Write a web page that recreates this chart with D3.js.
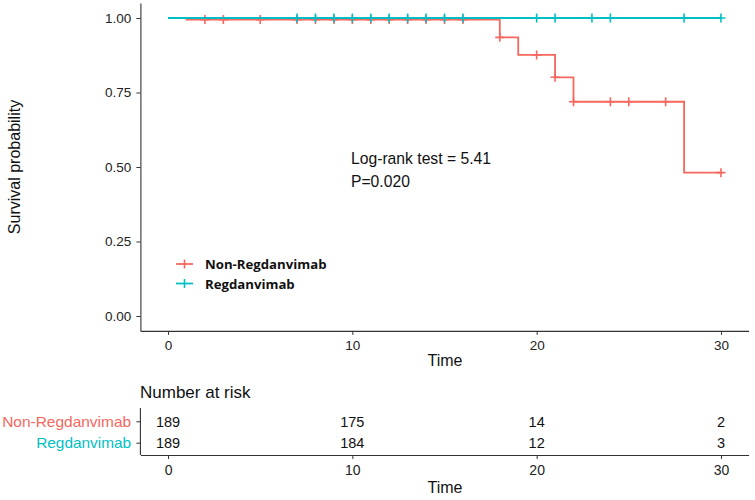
<!DOCTYPE html>
<html><head><meta charset="utf-8">
<script src="https://cdn.jsdelivr.net/npm/d3@7"></script>
<style>body{margin:0;background:#fff}svg{display:block}</style>
</head><body>
<svg id="c" width="755" height="500"></svg>
<script>
const groups = ["Non-Regdanvimab", "Regdanvimab"];
const colors = ["#F6675E", "#00BFC4"];
// step curves (time, survival)
const nonStepTimes = [0, 1, 18, 19, 21, 22, 28, 30];
const nonStepSurv  = [1, 0.9947, 0.935, 0.876, 0.801, 0.719, 0.481, 0.481];
const regStepTimes = [0, 30];
const regStepSurv  = [1, 1];
// censor times
const nonCensor = [2, 3, 5, 7, 8, 9, 10, 11, 12, 13, 14, 15, 16, 18, 20, 21, 22, 24, 25, 27, 30];
const regCensor = [7, 8, 9, 10, 11, 12, 13, 14, 15, 16, 20, 21, 23, 24, 28, 30];
// risk table
const riskTimes = [0, 10, 20, 30];
const nonRisk = [189, 175, 14, 2];
const regRisk = [189, 184, 12, 3];
const xTicks = [0, 10, 20, 30];
const yTicks = [0, 0.25, 0.5, 0.75, 1];

const svg = d3.select("#c");
const FONT = "'Liberation Sans', Arial, sans-serif";
const x = d3.scaleLinear().domain([-1.5, 31.5]).range([140.4, 748.6]);
const y = d3.scaleLinear().domain([-0.05, 1.05]).range([330.9, 3.1]);

// axes main
const gx = svg.append("g").attr("transform", "translate(0,330.9)")
  .call(d3.axisBottom(x).tickValues(xTicks).tickSize(4).tickSizeOuter(0));
const gy = svg.append("g").attr("transform", "translate(140.4,0)")
  .call(d3.axisLeft(y).tickValues(yTicks).tickFormat(d3.format(".2f")).tickSize(4).tickSizeOuter(0));
[gx, gy].forEach(g => {
  g.selectAll("path.domain").attr("stroke", "#333").attr("stroke-width", 1.1);
  g.selectAll(".tick line").attr("stroke", "#333");
  g.selectAll(".tick text").attr("fill", "#222").style("font-family", FONT).style("font-size", "13.5px");
});
gx.selectAll(".tick text").attr("dy", "0.9em");
gy.selectAll(".tick text").attr("dx", "-0.15em");

svg.append("text").attr("x", 445).attr("y", 366).attr("text-anchor", "middle")
  .style("font-family", FONT).style("font-size", "16px").attr("fill", "#111").text("Time");
svg.append("text").attr("transform", "translate(20,167) rotate(-90)").attr("text-anchor", "middle")
  .style("font-family", FONT).style("font-size", "16px").attr("fill", "#111").text("Survival probability");

// curves
const series = [
  {t: nonStepTimes, s: nonStepSurv, c: nonCensor, col: colors[0]},
  {t: regStepTimes, s: regStepSurv, c: regCensor, col: colors[1]}
];
const line = d3.line().x(d => x(d[0])).y(d => y(d[1])).curve(d3.curveStepAfter);
function survAt(sr, t) {
  let v = sr.s[0];
  for (let i = 0; i < sr.t.length; i++) if (sr.t[i] <= t) v = sr.s[i];
  return v;
}
series.forEach(sr => {
  const pts = sr.t.map((t, i) => [t, sr.s[i]]);
  svg.append("path").datum(pts).attr("d", line).attr("fill", "none")
    .attr("stroke", sr.col).attr("stroke-width", 1.8);
  const g = svg.append("g");
  sr.c.forEach(t => {
    const cx = x(t), cy = y(survAt(sr, t));
    g.append("path").attr("d", `M${cx-4.5},${cy}H${cx+4.5}M${cx},${cy-4.5}V${cy+4.5}`)
      .attr("stroke", sr.col).attr("stroke-width", 1.6).attr("fill", "none");
  });
});

// annotation
svg.append("text").attr("x", 351).attr("y", 164).style("font-family", FONT).style("font-size", "15.7px")
  .attr("fill", "#111").text("Log-rank test = 5.41");
svg.append("text").attr("x", 351).attr("y", 187).style("font-family", FONT).style("font-size", "15.7px")
  .attr("fill", "#111").text("P=0.020");

// legend
groups.forEach((gname, i) => {
  const ly = 264 + i * 19.5;
  svg.append("line").attr("x1", 176).attr("x2", 193).attr("y1", ly).attr("y2", ly)
    .attr("stroke", colors[i]).attr("stroke-width", 1.8);
  svg.append("path").attr("d", `M${184.5},${ly-4.5}V${ly+4.5}`).attr("stroke", colors[i]).attr("stroke-width", 1.6);
  svg.append("text").attr("x", 205).attr("y", ly + 5).style("font-family", "'Open Sans', sans-serif")
    .style("font-size", "13.2px").style("font-weight", "bold").attr("fill", "#111").text(gname);
});

// risk table
svg.append("text").attr("x", 140).attr("y", 398).style("font-family", FONT).style("font-size", "17px")
  .attr("fill", "#111").text("Number at risk");
const xr = x.copy();
const yr = d3.scaleBand().domain(groups).range([410, 455]).paddingOuter(0.05);
const grx = svg.append("g").attr("transform", "translate(0,455)")
  .call(d3.axisBottom(xr).tickValues(xTicks).tickSize(4).tickSizeOuter(0));
const gry = svg.append("g").attr("transform", "translate(140.4,0)")
  .call(d3.axisLeft(yr).tickSize(4).tickSizeOuter(0));
[grx, gry].forEach(g => {
  g.selectAll("path.domain").attr("stroke", "#333").attr("stroke-width", 1.1);
  g.selectAll(".tick line").attr("stroke", "#333");
  g.selectAll(".tick text").style("font-family", FONT).style("font-size", "14px").attr("fill", "#222");
});
grx.selectAll(".tick text").attr("dy", "0.9em");
gry.selectAll(".tick text").attr("dx", "-0.15em").style("font-size", "15px")
  .attr("textLength", (d, i) => i === 0 ? 129 : 95).attr("lengthAdjust", "spacingAndGlyphs")
  .attr("fill", (d, i) => colors[i]);
gry.select("path.domain").attr("d", "M0,408V455");
svg.append("text").attr("x", 445).attr("y", 493).attr("text-anchor", "middle")
  .style("font-family", FONT).style("font-size", "16px").attr("fill", "#111").text("Time");
[nonRisk, regRisk].forEach((arr, gi) => {
  arr.forEach((v, i) => {
    svg.append("text").attr("x", xr(riskTimes[i])).attr("y", yr(groups[gi]) + yr.bandwidth() / 2)
      .attr("dy", "0.35em").attr("text-anchor", "middle")
      .style("font-family", FONT).style("font-size", "14.5px").attr("fill", "#111").text(v);
  });
});
</script>
</body></html>
